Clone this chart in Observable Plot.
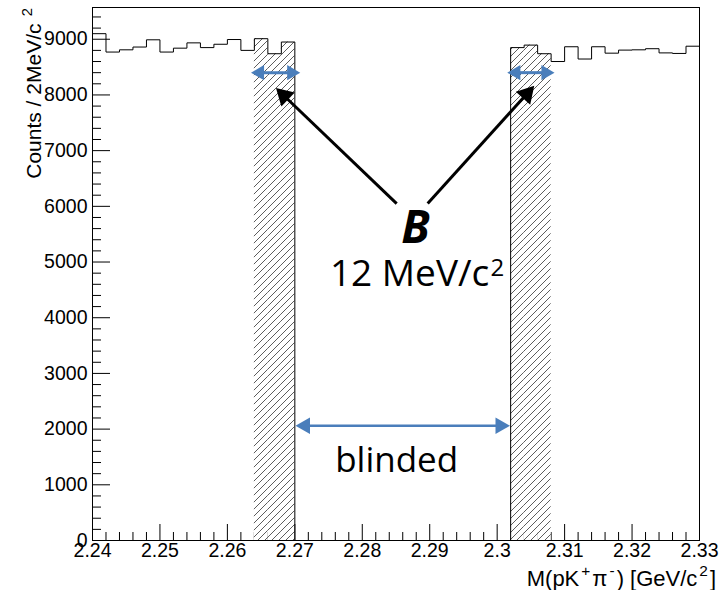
<!DOCTYPE html>
<html><head><meta charset="utf-8">
<script src="https://cdn.jsdelivr.net/npm/d3@7"></script>
<script src="https://cdn.jsdelivr.net/npm/@observablehq/plot@0.6"></script>
<style>
html,body{margin:0;padding:0;background:#fff;}
#chart{width:724px;height:590px;}
</style></head><body>
<svg width="0" height="0" style="position:absolute">
<defs>
<pattern id="hatch" patternUnits="userSpaceOnUse" width="7" height="7">
<rect width="7" height="7" fill="white"/>
<path d="M-1,1 l2,-2 M0,7 l7,-7 M6,8 l2,-2" stroke="#333" stroke-width="0.8"/>
</pattern></defs></svg>
<div id="chart"></div>
<script>
// ---- data ----
const binStart = 2.24;
const binWidth = 0.002;
const leftCounts = [9100, 8770, 8810, 8860, 8990, 8770, 8840, 8935, 8850, 8910, 8995, 8800];
const leftBandCounts = [9010, 8740, 8950];
const blindedBinCount = 16;
const rightBandCounts = [8850, 8895, 8740];
const rightCounts = [8600, 8865, 8645, 8865, 8750, 8805, 8810, 8830, 8755, 8745, 8875];
const xTickValues = [2.24, 2.25, 2.26, 2.27, 2.28, 2.29, 2.30, 2.31, 2.32, 2.33];
const yTickValues = [0, 1000, 2000, 3000, 4000, 5000, 6000, 7000, 8000, 9000];
// annotations (data coordinates)
const blueArrows = [
  {x1: 2.2635, x2: 2.2708, y: 8400},
  {x1: 2.3015, x2: 2.3085, y: 8400}
];
const blindArrow = [{x1: 2.2701, x2: 2.3019, y: 2060}];
const blackArrows = [
  {tx: 2.2851, ty: 6050, hx: 2.2672, hy: 8125},
  {tx: 2.2897, ty: 6050, hx: 2.3055, hy: 8165}
];
const labelB = [{x: 2.2879, y: 5600, text: "B"}];
const labelWidth = [{x: 2.2752, y: 4776, text: "12 MeV/c"}];
const labelWidthSup = [{x: 2.2990, y: 4880, text: "2"}];
const labelBlinded = [{x: 2.2851, y: 1440, text: "blinded"}];
const xTitleParts = [["M(pK", 0], ["+", 1], ["π", 0], ["-", 1], [") [GeV/c", 0], ["2", 1], ["]", 0]];
const yTitleParts = [["Counts / 2MeV/c ", 0], ["2", 1]];

// ---- layout ----
const W = 724, H = 590;
const mL = 92, mR = 25, mT = 7, mB = 50;
const xDomain = [2.24, 2.33], yMax = 9570;
const X = d3.scaleLinear(xDomain, [mL, W - mR]);
const Y = d3.scaleLinear([0, yMax], [H - mB, mT]);
const countsPerPx = yMax / (H - mB - mT);
const xUnitsPerPx = (xDomain[1] - xDomain[0]) / (W - mL - mR);

// bins
const counts = [...leftCounts, ...leftBandCounts, ...new Array(blindedBinCount).fill(0), ...rightBandCounts, ...rightCounts];
const bins = counts.map((c, i) => ({x1: binStart + i * binWidth, x2: binStart + (i + 1) * binWidth, c, i}));
const bandStartL = leftCounts.length;
const bandStartR = bandStartL + leftBandCounts.length + blindedBinCount;
const bandBins = bins.filter(b => (b.i >= bandStartL && b.i < bandStartL + leftBandCounts.length) ||
                                  (b.i >= bandStartR && b.i < bandStartR + rightBandCounts.length));
const stepPts = bins.map(b => ({x: b.x1, y: b.c})).concat([{x: bins[bins.length - 1].x2, y: bins[bins.length - 1].c}]);

// tick marks
const xMinor = d3.range(0, bins.length + 1).map(i => +(binStart + i * binWidth).toFixed(3));
const yMinor = d3.range(0, 9600, 200);

// arrow heads
const K = 1.555;
function head(tail, tip, r) {
  const tx = X(tail[0]), ty = Y(tail[1]), px = X(tip[0]), py = Y(tip[1]);
  const L = Math.hypot(px - tx, py - ty);
  const ux = (px - tx) / L, uy = (py - ty) / L;
  const cx = px - ux * K * r, cy = py - uy * K * r;
  return {x: X.invert(cx), y: Y.invert(cy), rotate: Math.atan2(ux, -uy) * 180 / Math.PI};
}
function doubleArrow(list, r) {
  const heads = [], shafts = [];
  for (const a of list) {
    const mid = [(a.x1 + a.x2) / 2, a.y];
    const h1 = head(mid, [a.x1, a.y], r), h2 = head(mid, [a.x2, a.y], r);
    heads.push(h1, h2);
    shafts.push({x1: h1.x, y1: h1.y, x2: h2.x, y2: h2.y});
  }
  return {heads, shafts};
}
const rSmall = 5.6, rBig = 6.2, rBlack = 7.2;
const smallA = doubleArrow(blueArrows, rSmall);
const bigA = doubleArrow(blindArrow, rBig);
const blackHeads = blackArrows.map(a => head([a.tx, a.ty], [a.hx, a.hy], rBlack));
const blackShafts = blackArrows.map((a, i) => ({x1: a.tx, y1: a.ty, x2: blackHeads[i].x, y2: blackHeads[i].y}));

const blue = "#4a7ebb";
const annFont = "Open Sans, Noto Sans, sans-serif";

const chart = Plot.plot({
  width: W, height: H,
  marginLeft: mL, marginRight: mR, marginTop: mT, marginBottom: mB,
  style: {fontFamily: "Liberation Sans, Arial, sans-serif", fontSize: "19.5px", background: "white", color: "black"},
  x: {domain: xDomain},
  y: {domain: [0, yMax]},
  marks: [
    Plot.ruleX(xMinor, {x: d => d, y1: 0, y2: d => (xTickValues.some(t => Math.abs(t - d) < 1e-6) ? 16 : 8) * countsPerPx, stroke: "black", strokeWidth: 1}),
    Plot.ruleY(yMinor, {y: d => d, x1: xDomain[0], x2: d => xDomain[0] + (d % 1000 === 0 ? 18 : 9) * xUnitsPerPx, stroke: "black", strokeWidth: 1}),
    Plot.rect(bandBins, {x1: "x1", x2: "x2", y1: 0, y2: "c", fill: "url(#hatch)"}),
    Plot.line(stepPts, {x: "x", y: "y", curve: "step-after", stroke: "black", strokeWidth: 1}),
    Plot.axisX({ticks: xTickValues, tickSize: 0, tickPadding: 3, tickFormat: d => String(+d.toFixed(2)), label: null}),
    Plot.axisY({ticks: yTickValues, tickSize: 0, tickPadding: 5, tickFormat: d => String(d), label: null}),
    Plot.link(smallA.shafts, {x1: "x1", y1: "y1", x2: "x2", y2: "y2", stroke: blue, strokeWidth: 3}),
    Plot.dot(smallA.heads, {x: "x", y: "y", rotate: "rotate", symbol: "triangle", r: rSmall, fill: blue}),
    Plot.link(bigA.shafts, {x1: "x1", y1: "y1", x2: "x2", y2: "y2", stroke: blue, strokeWidth: 2.5}),
    Plot.dot(bigA.heads, {x: "x", y: "y", rotate: "rotate", symbol: "triangle", r: rBig, fill: blue}),
    Plot.link(blackShafts, {x1: "x1", y1: "y1", x2: "x2", y2: "y2", stroke: "black", strokeWidth: 3}),
    Plot.dot(blackHeads, {x: "x", y: "y", rotate: "rotate", symbol: "triangle", r: rBlack, fill: "black"}),
    Plot.text(labelB, {x: "x", y: "y", text: "text", fontSize: 46, fontWeight: 700, fontStyle: "italic", fontFamily: annFont, fill: "black"}),
    Plot.text(labelWidth, {x: "x", y: "y", text: "text", textAnchor: "start", fontSize: 37, fontFamily: annFont, fill: "black"}),
    Plot.text(labelWidthSup, {x: "x", y: "y", text: "text", textAnchor: "start", fontSize: 24, fontFamily: annFont, fill: "black"}),
    Plot.text(labelBlinded, {x: "x", y: "y", text: "text", fontSize: 35, fontFamily: annFont, fill: "black"}),
    Plot.frame({stroke: "black", strokeWidth: 1})
  ]
});
document.getElementById("chart").appendChild(chart);

// axis titles with superscripts
const svg = d3.select(chart);
function titled(sel, parts, size, gap) {
  let raised = false;
  for (const [t, sup] of parts) {
    const ts = sel.append("tspan").text(t);
    if (sup && !raised) { ts.attr("dy", -0.45 * size).attr("font-size", 0.7 * size).attr("dx", gap); raised = true; }
    else if (!sup && raised) { ts.attr("dy", 0.45 * size).attr("dx", gap); raised = false; }
    else if (sup) { ts.attr("font-size", 0.7 * size); }
  }
}
const xt = svg.append("text").attr("text-anchor", "end")
  .attr("transform", `translate(${W - 8},${H - 4})`)
  .attr("font-size", 22).attr("font-family", "Liberation Sans, Arial, sans-serif").attr("fill", "black");
titled(xt, xTitleParts, 22, 2);
const yt = svg.append("text").attr("text-anchor", "end")
  .attr("transform", `translate(41,${mT + 1}) rotate(-90)`)
  .attr("font-size", 21).attr("font-family", "Liberation Sans, Arial, sans-serif").attr("fill", "black");
titled(yt, yTitleParts, 21, 1.5);
</script>
</body></html>
